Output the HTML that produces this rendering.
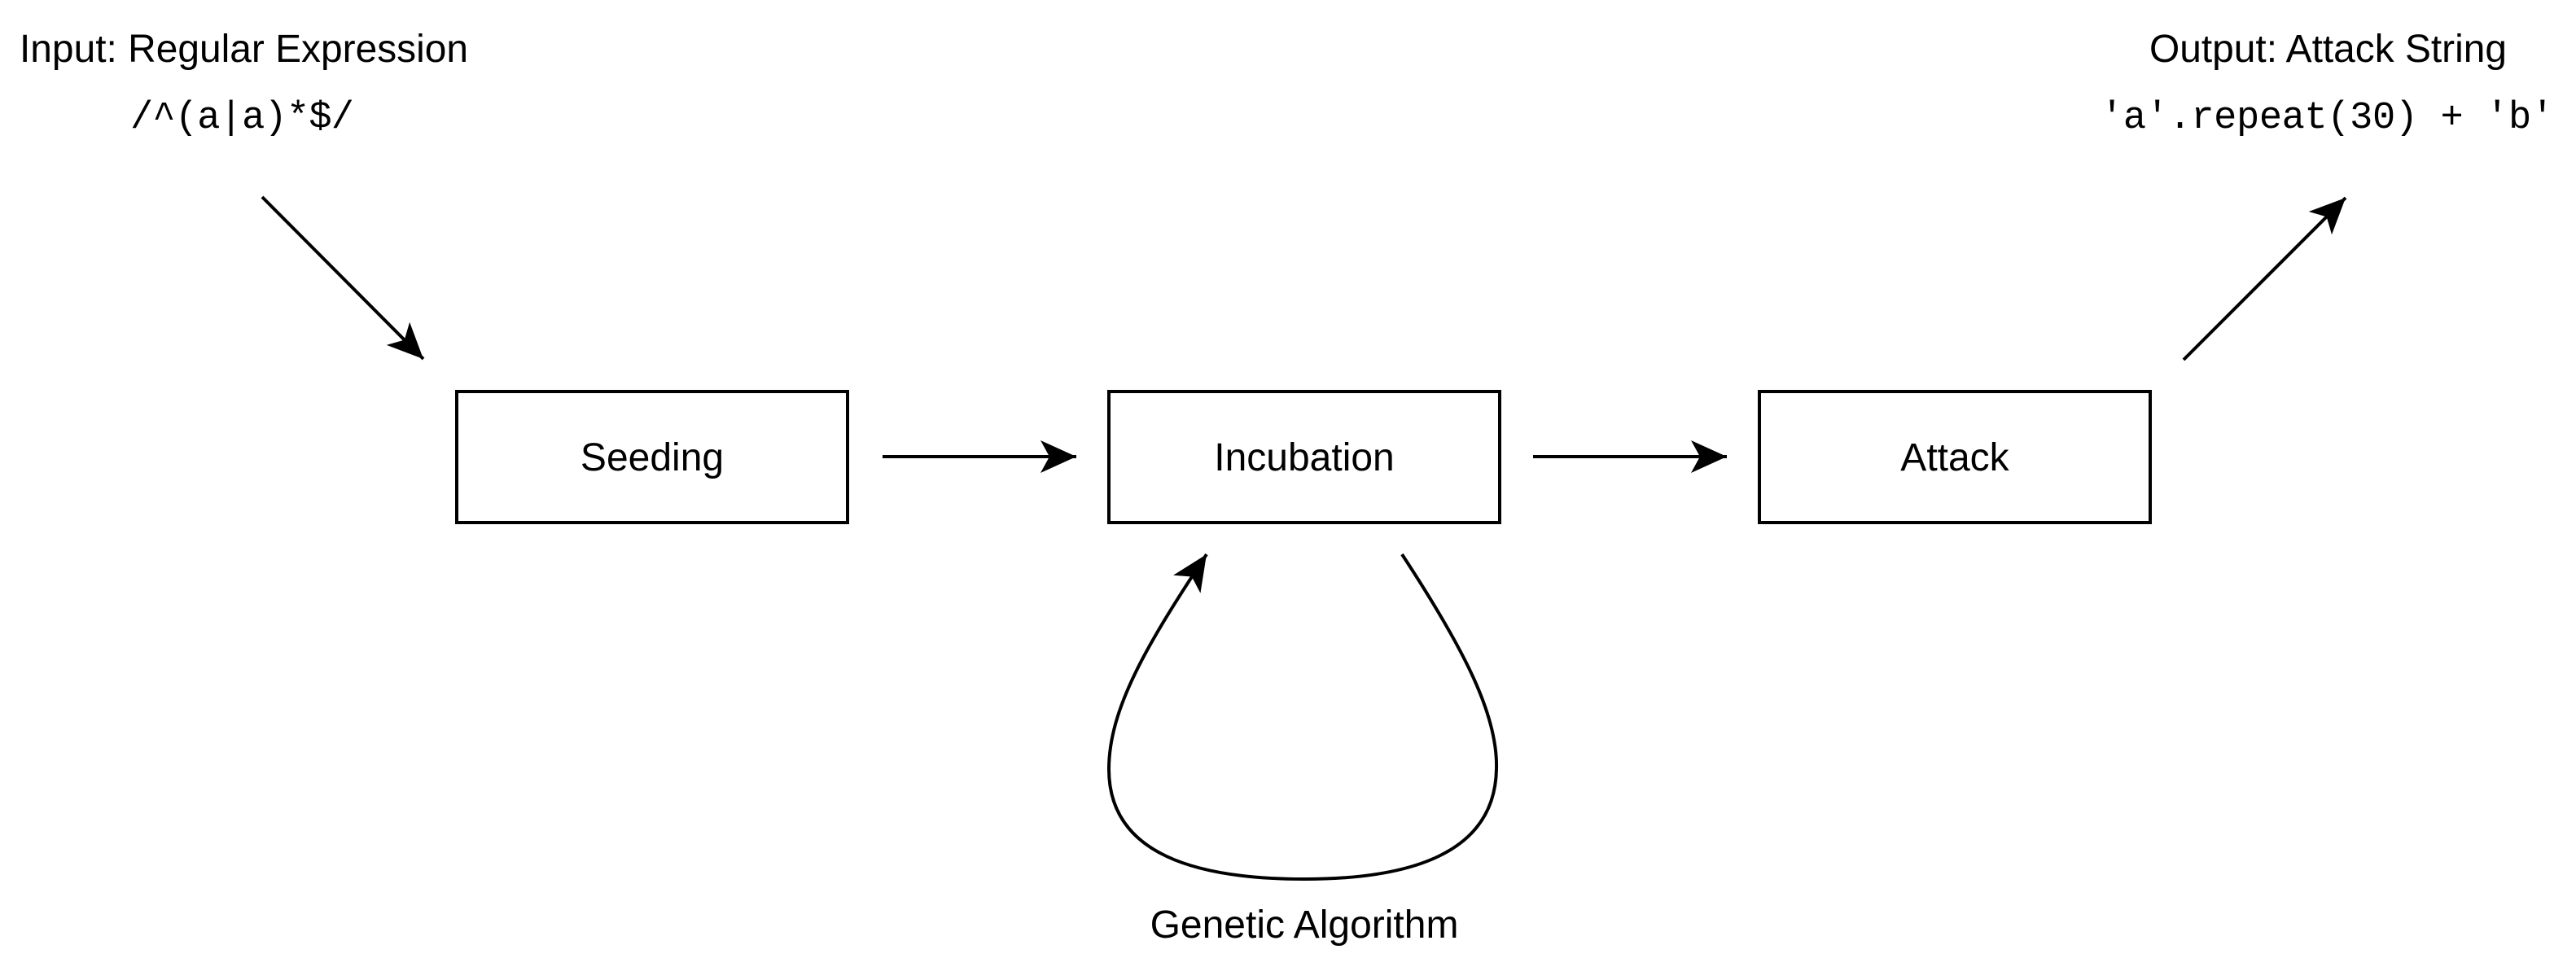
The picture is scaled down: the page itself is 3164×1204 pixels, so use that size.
<!DOCTYPE html>
<html><head><meta charset="utf-8"><style>
html,body{margin:0;padding:0;background:#fff;}
svg{display:block;}
.s{font-family:"Liberation Sans",Arial,sans-serif;font-size:48px;fill:#000;}
.m{font-family:"Liberation Mono","Courier New",monospace;font-size:47px;fill:#000;}
</style></head><body>
<svg width="3164" height="1204" viewBox="0 0 3164 1204" xmlns="http://www.w3.org/2000/svg">
<defs>
<marker id="a" markerUnits="userSpaceOnUse" markerWidth="60" markerHeight="60" refX="44" refY="22" orient="auto">
<path d="M0,2 L44,22 L0,42 L11,22 Z" fill="#000"/>
</marker>
</defs>
<g fill="none" stroke="#000" stroke-width="4">
<rect x="561" y="481" width="480" height="161"/>
<rect x="1362" y="481" width="480" height="161"/>
<rect x="2161" y="481" width="480" height="161"/>
<path d="M322,242 L520,441" marker-end="url(#a)"/>
<path d="M1084,561 L1322,561" marker-end="url(#a)"/>
<path d="M1883,561 L2121,561" marker-end="url(#a)"/>
<path d="M2682,442 L2881,243" marker-end="url(#a)"/>
<path d="M1722,681 C1800,800 1840,880 1838,945 C1836,1050 1730,1080 1602,1080 C1470,1080 1362,1050 1362,945 C1362,870 1410,790 1482,681" marker-end="url(#a)"/>
</g>
<text class="s" x="24" y="76" textLength="551" lengthAdjust="spacingAndGlyphs">Input: Regular Expression</text>
<text class="m" x="160" y="157" textLength="275" lengthAdjust="spacing">/^(a|a)*$/</text>
<text class="s" x="2640" y="76" textLength="439" lengthAdjust="spacingAndGlyphs">Output: Attack String</text>
<text class="m" x="2580" y="157" textLength="557" lengthAdjust="spacing">'a'.repeat(30) + 'b'</text>
<text class="s" x="801" y="578" text-anchor="middle">Seeding</text>
<text class="s" x="1602" y="578" text-anchor="middle">Incubation</text>
<text class="s" x="2401" y="578" text-anchor="middle">Attack</text>
<text class="s" x="1602" y="1152" text-anchor="middle">Genetic Algorithm</text>
</svg>
</body></html>
